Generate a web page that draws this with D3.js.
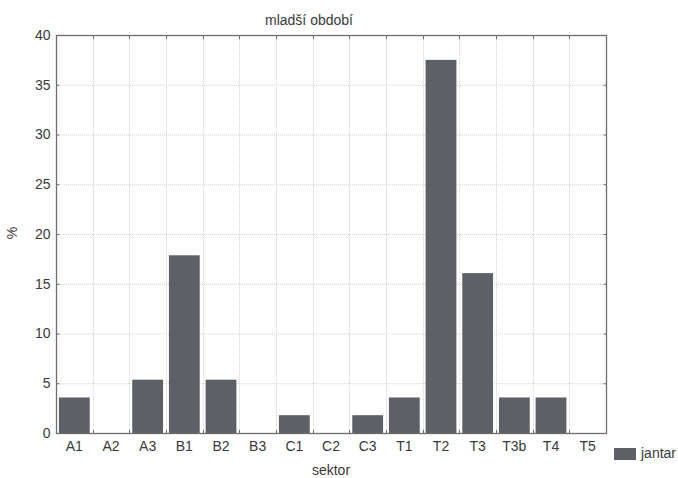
<!DOCTYPE html>
<html><head><meta charset="utf-8">
<script src="https://cdn.jsdelivr.net/npm/d3@7"></script>
<style>
body{margin:0;background:#fff;}
text{font-family:"Liberation Sans",Arial,sans-serif;fill:#3a3a3a;}
</style></head>
<body><svg id="c" width="678" height="478"></svg>
<script>
const categories = ["A1","A2","A3","B1","B2","B3","C1","C2","C3","T1","T2","T3","T3b","T4","T5"];
const values = [3.57,0,5.36,17.86,5.36,0,1.79,0,1.79,3.57,37.5,16.07,3.57,3.57,0];
const yTicks = [0,5,10,15,20,25,30,35,40];
const seriesName = "jantar";
const title = "mladší období";
const xLabel = "sektor";
const yLabel = "%";

const svg = d3.select("#c");
const L = 56, R = 606, T = 35, B = 433;
const FS = 14;
const x = d3.scaleBand().domain(categories).range([L, R]).paddingInner(0.16).paddingOuter(0.08);
const y = d3.scaleLinear().domain([0, 40]).range([B, T]);
const step = (R - L) / categories.length;
const barColor = "#5d6166";
const frameColor = "#6e6e6e";
const font = "Liberation Sans, Arial, sans-serif";

// grid
const g = svg.append("g");
g.selectAll(".hg").data(yTicks.slice(1, -1)).enter().append("line")
  .attr("x1", L).attr("x2", R).attr("y1", d => y(d) + 0.5).attr("y2", d => y(d) + 0.5)
  .attr("stroke", "#d2d2d2").attr("stroke-dasharray", "1,1");
g.selectAll(".vg").data(d3.range(1, categories.length)).enter().append("line")
  .attr("x1", i => Math.round(L + i * step) + 0.5).attr("x2", i => Math.round(L + i * step) + 0.5)
  .attr("y1", T).attr("y2", B)
  .attr("stroke", "#d2d2d2").attr("stroke-dasharray", "1,1");

// bars
svg.selectAll(".bar").data(categories.map((c, i) => ({c, v: values[i]}))).enter().append("rect")
  .attr("x", d => x(d.c)).attr("width", x.bandwidth())
  .attr("y", d => y(d.v)).attr("height", d => B - y(d.v))
  .attr("fill", barColor);

// frame
svg.append("rect").attr("x", L + 0.5).attr("y", T + 0.5).attr("width", R - L).attr("height", B - T)
  .attr("fill", "none").attr("stroke", frameColor).attr("stroke-width", 1.3);

// y axis ticks (inside, both sides)
const yAxisL = d3.axisLeft(y).tickValues(yTicks).tickSize(-3).tickPadding(6);
const ga = svg.append("g").attr("transform", `translate(${L + 0.5},0)`).call(yAxisL);
ga.select(".domain").remove();
ga.selectAll("line").attr("stroke", frameColor);
ga.selectAll("text").attr("font-size", FS).attr("fill", "#3a3a3a").style("font-family", font);
const yAxisR = d3.axisRight(y).tickValues(yTicks).tickSize(-3).tickFormat("");
const gr = svg.append("g").attr("transform", `translate(${R + 0.5},0)`).call(yAxisR);
gr.select(".domain").remove();
gr.selectAll("line").attr("stroke", frameColor);

// x axis labels and boundary ticks
const xAxis = d3.axisBottom(x).tickSize(0).tickPadding(8);
const gx = svg.append("g").attr("transform", `translate(0,${B})`).call(xAxis);
gx.select(".domain").remove();
gx.selectAll("text").attr("font-size", FS).attr("fill", "#3a3a3a").style("font-family", font);
const bounds = d3.range(1, categories.length);
svg.selectAll(".bt").data(bounds).enter().append("line")
  .attr("x1", i => Math.round(L + i * step) + 0.5).attr("x2", i => Math.round(L + i * step) + 0.5)
  .attr("y1", B).attr("y2", B - 3).attr("stroke", frameColor);
svg.selectAll(".tt").data(bounds).enter().append("line")
  .attr("x1", i => Math.round(L + i * step) + 0.5).attr("x2", i => Math.round(L + i * step) + 0.5)
  .attr("y1", T + 1).attr("y2", T + 4).attr("stroke", frameColor);

// titles
svg.append("text").attr("x", 309).attr("y", 25).attr("text-anchor", "middle").attr("font-size", FS).text(title);
svg.append("text").attr("x", 331).attr("y", 475).attr("text-anchor", "middle").attr("font-size", FS).text(xLabel);
svg.append("text").attr("transform", "translate(17,233) rotate(-90)").attr("text-anchor", "middle").attr("font-size", FS).text(yLabel);

// legend
svg.append("rect").attr("x", 614).attr("y", 448).attr("width", 22).attr("height", 12).attr("fill", barColor);
svg.append("text").attr("x", 641).attr("y", 458).attr("font-size", FS).text(seriesName);
</script></body></html>
